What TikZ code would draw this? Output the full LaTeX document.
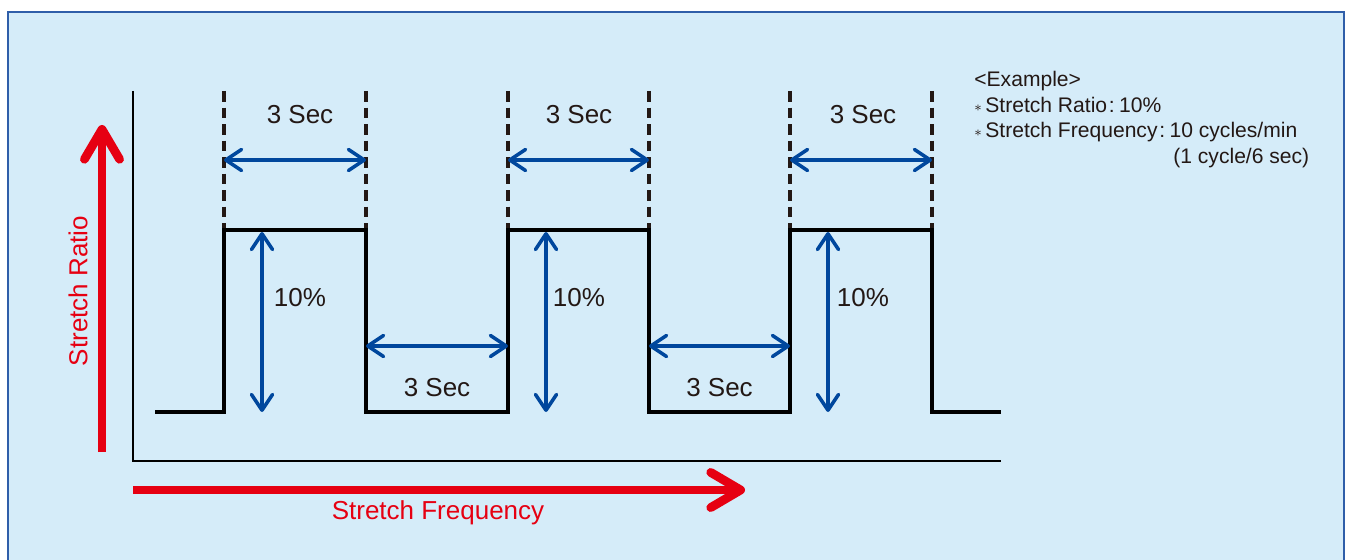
\documentclass[tikz,border=0pt]{standalone}
\usepackage{fontspec}
\setmainfont{Liberation Sans}
\usetikzlibrary{arrows.meta}
\definecolor{bgblue}{HTML}{D5ECF9}
\definecolor{frameblue}{HTML}{2F5EA9}
\definecolor{dimblue}{HTML}{00479D}
\definecolor{axisred}{HTML}{E60012}
\definecolor{txtgray}{HTML}{231815}
\begin{document}
\begin{tikzpicture}[x=0.02cm,y=-0.02cm,
        dimarrow/.style={draw=dimblue,line width=2pt,line cap=round,
                {Straight Barb[length=9pt,width=12pt,round]}-{Straight Barb[length=9pt,width=12pt,round]}},
        redarrow/.style={draw=axisred,line width=5pt,
                -{Straight Barb[length=17pt,width=20pt,round]}},
        signal/.style={draw=black,line width=2.3pt},
        guide/.style={draw=txtgray,line width=1.8pt,dash pattern=on 6pt off 3.4pt},
        lbl/.style={text=txtgray,font=\fontsize{14.8}{17}\selectfont},
        note/.style={text=txtgray,font=\fontsize{12}{14}\selectfont,anchor=base west,inner sep=0pt}]
        \useasboundingbox (0,0) rectangle (1345,560);
        \fill[bgblue] (8,12) rectangle (1344,560);
        \draw[frameblue,line width=1.1pt] (8,560)--(8,12)--(1344,12)--(1344,560);
        \coordinate (origin) at (133,461);
        \coordinate (ytop) at (133,91);
        \coordinate (xend) at (1001,461);
        \draw[line width=1.4pt] (ytop)--(origin)--(xend);
        \coordinate (start) at (155,412);
        \coordinate (stop) at (1001,412);
        \foreach \a/\b/\t/\n in {224/366/300/1,508/649/579/2,790/932/863/3}{
                \coordinate (rise\n) at (\a,230);
                \coordinate (fall\n) at (\b,412);
                \coordinate (dl\n) at (\a,91);
                \coordinate (dr\n) at (\b,91);
                \draw[guide] (dl\n)--(\a,230);
                \draw[guide] (dr\n)--(\b,230);
                \coordinate (hl\n) at (\a,160);
                \coordinate (hr\n) at (\b,160);
                \draw[dimarrow] (hl\n)--(hr\n);
                \node[lbl] (sec\n) at (\t,115) {3 Sec};
                \coordinate (vt\n) at (\a+38,232);
                \coordinate (vb\n) at (\a+38,412);
                \draw[dimarrow] (vt\n)--(vb\n);
                \node[lbl] (pct\n) at (\t,298) {10\%};
        }
        \draw[signal] (start) -| (rise1) -| (fall1) -| (rise2) -| (fall2) -| (rise3) -| (fall3) -- (stop);
        \foreach \a/\b/\n in {366/508/1,649/790/2}{
                \coordinate (gl\n) at (\a,346);
                \coordinate (gr\n) at (\b,346);
                \draw[dimarrow] (gl\n)--(gr\n);
                \node[lbl] (gap\n) at ({(\a+\b)/2},388) {3 Sec};
        }
        \coordinate (rb) at (102,452);
        \coordinate (rt) at (102,125);
        \draw[redarrow] (rb)--(rt);
        \coordinate (fl) at (133,490);
        \coordinate (fr) at (745,490);
        \draw[redarrow] (fl)--(fr);
        \node[lbl,text=axisred,rotate=90] (ratio) at (78,291) {Stretch Ratio};
        \node[lbl,text=axisred] (freq) at (438,513) {Stretch Frequency};
        \node[note] (ex) at (974,87) {<Example>};
        \node[note] (n1) at (974,113) {\raisebox{1pt}{\footnotesize$\ast$}\,Stretch Ratio\kern1pt:\kern2.5pt10\%};
        \node[note] (n2) at (974,138) {\raisebox{1pt}{\footnotesize$\ast$}\,Stretch Frequency\kern1pt:\kern2.5pt10 cycles/min};
        \node[note] (n3) at (1173,164) {(1 cycle/6 sec)};
\end{tikzpicture}
\end{document}
